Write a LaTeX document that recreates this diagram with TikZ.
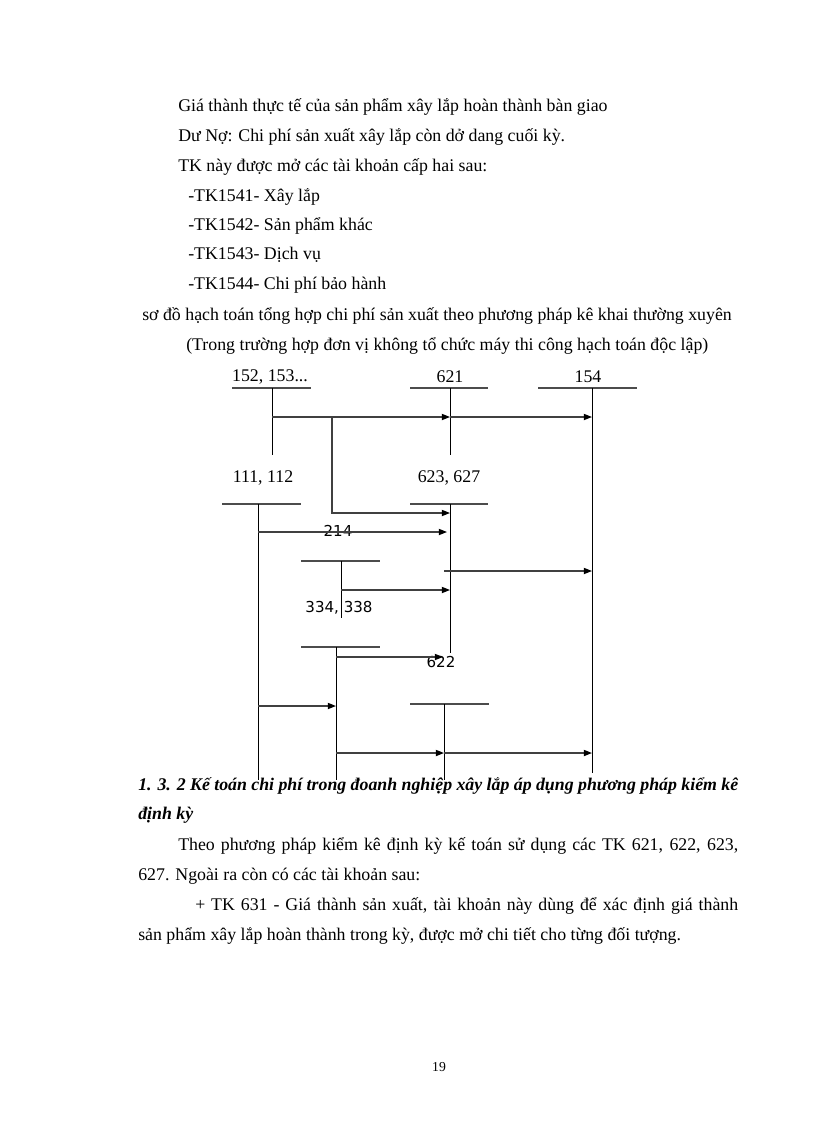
\documentclass[tikz,border=0pt]{standalone}
\usepackage{fontspec}
\setmainfont{Liberation Serif}
\newfontfamily\numsans{DejaVu Sans}
\usetikzlibrary{arrows.meta}
\newdimen\pxu \pxu=0.7295pt
\begin{document}
\begin{tikzpicture}
      [x=0.7295pt, y=-0.7295pt,
      every node/.style={inner sep=0pt, font=\fontsize{13}{16}\selectfont},
      line/.style={anchor=base west},
      head/.style={anchor=base west, font=\fontsize{13}{16}\selectfont\bfseries\itshape},
      tsans/.style={font=\fontsize{11}{13}\selectfont\numsans},
      bar/.style={black!70, line width=1pt},
      axis/.style={black, line width=0.6pt},
      flow/.style={black!75, line width=1pt, -{Triangle[length=6pt,width=4.5pt,color=black]}},
      ]
      \fill[white] (0,0) rectangle (816,1123);
      \useasboundingbox (0,0) rectangle (816,1123);
      % text above
      \node[line] (l1) at (178,111) {Giá thành thực tế của sản phẩm xây lắp hoàn thành bàn giao};
      \node[line] (l2) at (178,141) {Dư Nợ: Chi phí sản xuất xây lắp còn dở dang cuối kỳ.};
      \node[line] (l3) at (178,171) {TK này được mở các tài khoản cấp hai sau:};
      \node[line] (l4) at (188,201) {-TK1541- Xây lắp};
      \node[line] (l5) at (188,230) {-TK1542- Sản phẩm khác};
      \node[line] (l6) at (188,259) {-TK1543- Dịch vụ};
      \node[line] (l7) at (188,289) {-TK1544- Chi phí bảo hành};
      \node[line] (l8) at (142,320) {sơ đồ hạch toán tổng hợp chi phí sản xuất theo phương pháp kê khai thường xuyên};
      \node[line] (l9) at (186,350) {(Trong trường hợp đơn vị không tổ chức máy thi công hạch toán độc lập)};
      % T accounts
      \node (n152) at (270,377) {152, 153...};
      \node (n621) at (450,377) {621};
      \node (n154) at (588,377) {154};
      \node (n111) at (263,478) {111, 112};
      \node (n623) at (449,478) {623, 627};
      \node[tsans] (n214) at (338,531) {214};
      \node[tsans] (n334) at (339,608) {334, 338};
      \node[tsans] (n622) at (441,662) {622};
      \draw[bar] (232,388) -- (311,388);
      \draw[bar] (410,388) -- (488,388);
      \draw[bar] (538,388) -- (637,388);
      \draw[bar] (222,504) -- (301,504);
      \draw[bar] (410,504) -- (488,504);
      \draw[bar] (301,561) -- (380,561);
      \draw[bar] (301,647) -- (380,647);
      \draw[bar] (410,704) -- (489,704);
      \coordinate (t152) at (272,388);
      \coordinate (t621) at (450,388);
      \coordinate (t154) at (592,388);
      \coordinate (t111) at (258,504);
      \coordinate (t623) at (450,504);
      \coordinate (t214) at (341,561);
      \coordinate (t334) at (336,647);
      \coordinate (t622) at (444,704);
      \draw[axis] (t152) -- (t152 |- 0,455);
      \draw[axis] (t621) -- (t621 |- 0,455);
      \draw[axis] (t154) -- (t154 |- 0,773);
      \draw[axis] (t111) -- (t111 |- 0,780);
      \draw[axis] (t623) -- (t623 |- 0,653);
      \draw[axis] (t214) -- (t214 |- 0,618);
      \draw[axis] (t334) -- (t334 |- 0,780);
      \draw[axis] (t622) -- (t622 |- 0,780);
      % flows
      \draw[flow] (t152 |- 0,417) -- (t621 |- 0,417);
      \draw[flow] (t621 |- 0,417) -- (t154 |- 0,417);
      \draw[flow] (332,417) -- (332,513) -- (t623 |- 0,513);
      \draw[flow] (t111 |- 0,532) -- (447,532);
      \draw[flow] (t214 |- 0,590) -- (t623 |- 0,590);
      \draw[flow] (444,571) -- (t154 |- 0,571);
      \draw[flow] (t334 |- 0,657) -- (443,657);
      \draw[flow] (t111 |- 0,706) -- (t334 |- 0,706);
      \draw[flow] (t334 |- 0,753) -- (t622 |- 0,753);
      \draw[flow] (t622 |- 0,753) -- (t154 |- 0,753);
      % text below
      \node[head] (h1) at (138,790) {\makebox[600\pxu][s]{1. 3. 2 Kế toán chi phí trong đoanh nghiệp xây lắp áp dụng phương pháp kiểm kê}};
      \node[head] (h2) at (138,819) {định kỳ};
      \node[line] (p1) at (178,850) {\makebox[560\pxu][s]{Theo phương pháp kiểm kê định kỳ kế toán sử dụng các TK 621, 622, 623,}};
      \node[line] (p2) at (138,880) {627. Ngoài ra còn có các tài khoản sau:};
      \node[line] (p3) at (195,910) {\makebox[543\pxu][s]{+ TK 631 - Giá thành sản xuất, tài khoản này dùng để xác định giá thành}};
      \node[line] (p4) at (138,940) {sản phẩm xây lắp hoàn thành trong kỳ, được mở chi tiết cho từng đối tượng.};
      \node[font=\fontsize{10}{12}\selectfont] (pg) at (439,1067) {19};
\end{tikzpicture}
\end{document}
